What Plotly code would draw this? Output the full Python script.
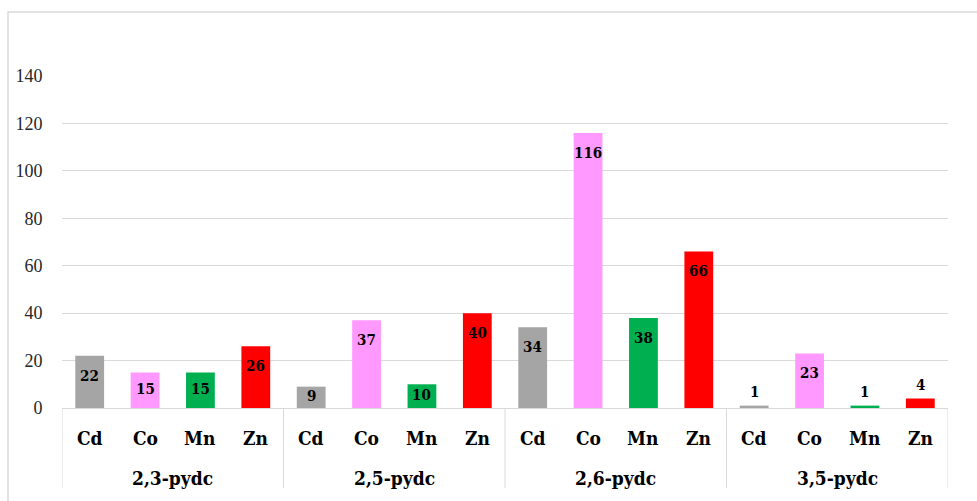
import plotly.graph_objects as go

# Counts per ligand (group) and metal (category)
ligands = ["2,3-pydc", "2,5-pydc", "2,6-pydc", "3,5-pydc"]
metals = ["Cd", "Co", "Mn", "Zn"]
values = [
    [22, 15, 15, 26],
    [9, 37, 10, 40],
    [34, 116, 38, 66],
    [1, 23, 1, 4],
]
metal_colors = {"Cd": "#a5a5a5", "Co": "#ff99ff", "Mn": "#00b050", "Zn": "#ff0000"}

y_ticks = [0, 20, 40, 60, 80, 100, 120, 140]

W, H = 977, 501
ML, MR, MT, MB = 62, 29, 76, 93
plot_h = H - MT - MB
plot_w = W - ML - MR
y_max = 140
px_per_unit = plot_h / y_max
grid_col = "#d9d9d9"
serif = "Liberation Serif"
serif_bold = "DejaVu Serif Condensed"

x_outer, x_inner, y_vals, colors = [], [], [], []
for lig, row in zip(ligands, values):
    for m, v in zip(metals, row):
        x_outer.append(lig)
        x_inner.append(m)
        y_vals.append(v)
        colors.append(metal_colors[m])

fig = go.Figure()
fig.add_trace(go.Bar(
    x=[x_outer, x_inner],
    y=y_vals,
    marker=dict(color=colors, line=dict(width=0)),
    hoverinfo="x+y",
))

annotations = []

# value labels: inside near the top of each bar, above very short bars
label_font = dict(family=serif_bold, size=15, color="#000000", weight="bold")
for lig, m, v in zip(x_outer, x_inner, y_vals):
    bar_px = v * px_per_unit
    if v < 5:
        annotations.append(dict(
            x=[lig, m], y=v, xref="x", yref="y", text=str(v),
            showarrow=False, yanchor="bottom", yshift=3, font=label_font,
        ))
    else:
        shift = min(20, bar_px / 2 - 1.5)
        annotations.append(dict(
            x=[lig, m], y=v, xref="x", yref="y", text=str(v),
            showarrow=False, yanchor="middle", yshift=-shift, font=label_font,
        ))

# two-level category labels below the axis
cat_font = dict(family=serif_bold, size=19, color="#000000", weight="bold")
for i, (lig, m) in enumerate(zip(x_outer, x_inner)):
    annotations.append(dict(
        x=i, y=0, xref="x", yref="paper", text=m,
        showarrow=False, yanchor="middle", yshift=-30, font=cat_font,
    ))
n = len(metals)
for g, lig in enumerate(ligands):
    annotations.append(dict(
        x=g * n + (n - 1) / 2, y=0, xref="x", yref="paper", text=lig,
        showarrow=False, yanchor="middle", yshift=-70, font=cat_font,
    ))

shapes = []
# group dividers reaching down through the label rows
for k in range(len(ligands) + 1):
    xb = k * n - 0.5
    shapes.append(dict(
        type="line", xref="x", yref="paper", x0=xb, x1=xb,
        y0=0, y1=-80 / plot_h, line=dict(color=grid_col, width=1),
    ))

# thin outer frame around the chart area
shapes.append(dict(
    type="rect", xref="paper", yref="paper",
    x0=(8 - ML) / plot_w, x1=1.2,
    y0=-0.5, y1=(H - MB - 12) / plot_h,
    line=dict(color=grid_col, width=1.5), fillcolor="rgba(0,0,0,0)", layer="below",
))

fig.update_layout(
    width=W, height=H,
    margin=dict(l=ML, r=MR, t=MT, b=MB),
    paper_bgcolor="white", plot_bgcolor="white",
    bargap=0.48,
    showlegend=False,
    annotations=annotations,
    shapes=shapes,
    font=dict(family=serif, color="#000000"),
)
fig.update_yaxes(
    range=[0, y_max], tickvals=y_ticks, showgrid=True, gridcolor=grid_col, gridwidth=1,
    zeroline=False, showline=False,
    ticks="outside", ticklen=15, tickcolor="rgba(0,0,0,0)",
    tickfont=dict(family=serif, size=18, color="#262626"),
)
fig.update_xaxes(
    type="multicategory", showline=True, linecolor=grid_col, linewidth=1,
    showticklabels=False, showdividers=False, ticks="",
    range=[-0.5, len(x_outer) - 0.5],
)

fig.write_html("out.html")
